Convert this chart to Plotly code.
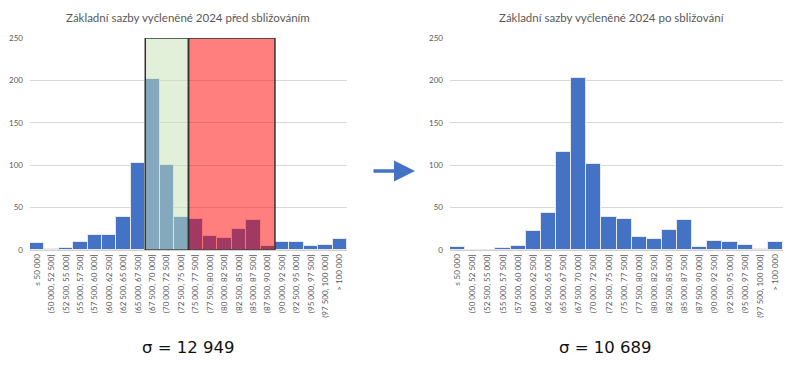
import plotly.graph_objects as go

categories = ["≤ 50 000", "(50 000, 52 500]", "(52 500, 55 000]", "(55 000, 57 500]",
              "(57 500, 60 000]", "(60 000, 62 500]", "(62 500, 65 000]", "(65 000, 67 500]",
              "(67 500, 70 000]", "(70 000, 72 500]", "(72 500, 75 000]", "(75 000, 77 500]",
              "(77 500, 80 000]", "(80 000, 82 500]", "(82 500, 85 000]", "(85 000, 87 500]",
              "(87 500, 90 000]", "(90 000, 92 500]", "(92 500, 95 000]", "(95 000, 97 500]",
              "(97 500, 100 000]", "> 100 000"]
before = [8, 1, 2, 9, 18, 18, 39, 103, 202, 100, 39, 37, 16, 14, 25, 35, 5, 9, 9, 5, 6, 13]
after = [4, 0.5, 0.5, 2, 5, 22, 44, 116, 203, 102, 39, 37, 15, 13, 24, 35, 4, 11, 10, 6, 1, 10]

title_before = "Základní sazby vyčleněné 2024 před sbližováním"
title_after = "Základní sazby vyčleněné 2024 po sbližování"
sigma_before = "σ = 12 949"
sigma_after = "σ = 10 689"

green_range = (categories[8], categories[10])
red_range = (categories[11], categories[16])

blue = "rgb(68,114,196)"
gray_txt = "#595959"

fig = go.Figure()
fig.add_trace(go.Bar(x=categories, y=before, xaxis="x", yaxis="y",
                     marker=dict(color=blue, line=dict(color="#e8e8e8", width=1)),
                     showlegend=False))
fig.add_trace(go.Bar(x=categories, y=after, xaxis="x2", yaxis="y2",
                     marker=dict(color=blue, line=dict(color="#e8e8e8", width=1)),
                     showlegend=False))

axis_common = dict(tickfont=dict(family="Lato", size=8, color=gray_txt), automargin=False)
ydom = [126 / 376, 338 / 376]
fig.update_layout(
    width=800, height=376,
    margin=dict(l=0, r=0, t=0, b=0),
    paper_bgcolor="white", plot_bgcolor="white",
    bargap=0,
    xaxis=dict(domain=[30 / 800, 347 / 800], anchor="y", tickangle=-90,
               showgrid=False, showline=True, linecolor="#d0d0d0", ticks="",
               **axis_common),
    yaxis=dict(domain=ydom, anchor="x", range=[0, 250], dtick=50,
               gridcolor="#d9d9d9", zeroline=False, showline=False, ticks="",
               ticklabelstandoff=6, **axis_common),
    xaxis2=dict(domain=[450 / 800, 783 / 800], anchor="y2", tickangle=-90,
                showgrid=False, showline=True, linecolor="#d0d0d0", ticks="",
                **axis_common),
    yaxis2=dict(domain=ydom, anchor="x2", range=[0, 250], dtick=50,
                gridcolor="#d9d9d9", zeroline=False, showline=False, ticks="",
                ticklabelstandoff=6, **axis_common),
    font=dict(family="Lato"),
)

i0 = categories.index(green_range[0]); i1 = categories.index(green_range[1])
j0 = categories.index(red_range[0]); j1 = categories.index(red_range[1])
fig.add_shape(type="rect", xref="x", yref="y", x0=i0 - 0.5, x1=i1 + 0.5, y0=0, y1=250,
              fillcolor="rgba(198,224,180,0.5)", line=dict(color="#333333", width=1.5),
              layer="above")
fig.add_shape(type="rect", xref="x", yref="y", x0=j0 - 0.5, x1=j1 + 0.5, y0=0, y1=250,
              fillcolor="rgba(255,0,0,0.5)", line=dict(color="#333333", width=1.5),
              layer="above")

fig.add_annotation(text=title_before, xref="paper", yref="paper", x=188 / 800, y=(376 - 18) / 376,
                   showarrow=False, font=dict(family="Lato", size=11.5, color=gray_txt),
                   xanchor="center", yanchor="middle")
fig.add_annotation(text=title_after, xref="paper", yref="paper", x=612 / 800, y=(376 - 18) / 376,
                   showarrow=False, font=dict(family="Lato", size=11.5, color=gray_txt),
                   xanchor="center", yanchor="middle")
fig.add_annotation(text=sigma_before, xref="paper", yref="paper", x=188 / 800, y=(376 - 347) / 376,
                   showarrow=False, font=dict(family="DejaVu Sans", size=16.5, color="#111111"),
                   xanchor="center", yanchor="middle")
fig.add_annotation(text=sigma_after, xref="paper", yref="paper", x=605 / 800, y=(376 - 347) / 376,
                   showarrow=False, font=dict(family="DejaVu Sans", size=16.5, color="#111111"),
                   xanchor="center", yanchor="middle")
fig.add_annotation(text="", xref="paper", yref="paper", x=415 / 800, y=(376 - 171) / 376,
                   ax=-43, ay=0, showarrow=True, arrowhead=2, arrowsize=1.2, arrowwidth=3.5,
                   arrowcolor=blue)

fig.write_html("out.html", config={"displayModeBar": False},
               post_script="document.body.style.margin='0';")
